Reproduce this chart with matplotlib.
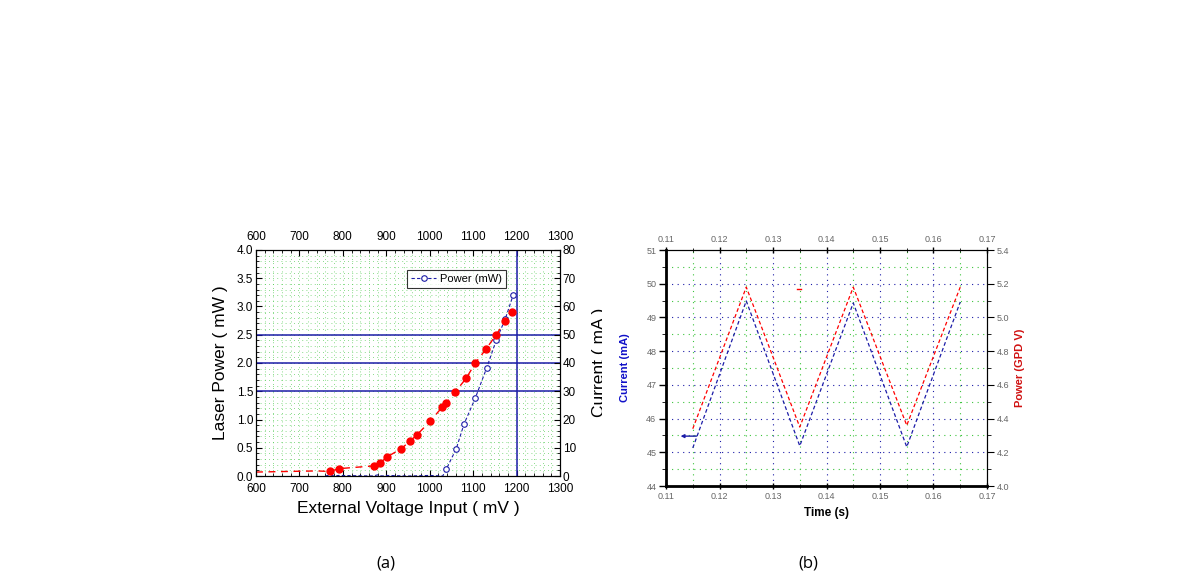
import matplotlib
matplotlib.use("Agg")
import matplotlib.pyplot as plt
from matplotlib.ticker import MultipleLocator
from matplotlib.transforms import Bbox

# ---- panel (a): laser power / current vs external voltage ----
red_mv = [600, 740, 770, 791, 872, 886, 902, 934, 955, 971, 1001, 1029, 1038,
          1059, 1084, 1105, 1130, 1153, 1174, 1190]
red_ma = [1.4, 1.8, 1.6, 2.6, 3.6, 4.6, 6.8, 9.6, 12.4, 14.6, 19.4, 24.4, 25.8,
          29.8, 34.6, 40.0, 45.0, 50.0, 54.8, 58.0]
blue_mv = [760, 770, 780, 790, 870, 880, 890, 900, 950, 1000, 1030, 1038, 1061,
           1079, 1105, 1131, 1153, 1174, 1192]
blue_mw = [0.0, 0.02, 0.0, 0.01, 0.0, 0.02, 0.0, 0.01, 0.0, 0.01, 0.0, 0.12, 0.48,
           0.92, 1.38, 1.91, 2.4, 2.78, 3.2]
hlines_mw = [1.5, 2.0, 2.5]
vline_mv = 1200

# ---- panel (b): current / photodiode power vs time ----
t_s = [0.115, 0.125, 0.135, 0.145, 0.155, 0.165]
cur_ma = [45.13, 49.49, 45.19, 49.43, 45.16, 49.46]
pd_v = [4.34, 5.18, 4.35, 5.18, 4.36, 5.18]

NAVY = "#1c1ca8"
GREEN = "#3cc43c"

plt.rcParams["font.family"] = ["Liberation Sans", "DejaVu Sans"]
fig = plt.figure(figsize=(11.9, 5.86), dpi=100)

# ================= (a) =================
ax = fig.add_axes([0.2151, 0.1877, 0.2555, 0.3857])
ax.set_xlim(600, 1300)
ax.set_ylim(0, 4.0)
ax.xaxis.set_major_locator(MultipleLocator(100))
ax.xaxis.set_minor_locator(MultipleLocator(20))
ax.yaxis.set_major_locator(MultipleLocator(0.5))
ax.yaxis.set_minor_locator(MultipleLocator(0.1))
ax.grid(which="both", color=GREEN, ls=(0, (1, 4)), lw=0.6, alpha=0.8)
ax.set_axisbelow(True)
ax.tick_params(which="both", direction="in", top=True, labeltop=True,
               labelsize=8.5, pad=2)
ax.tick_params(axis="x", which="both", pad=5)
ax.tick_params(which="major", length=4)
ax.tick_params(which="minor", length=2)

for y in hlines_mw:
    ax.axhline(y, color=NAVY, lw=1.1)
ax.axvline(vline_mv, color=NAVY, lw=1.1)

ax.plot(blue_mv, blue_mw, ls=(0, (3, 2)), color=NAVY, lw=0.8, marker="o",
        ms=4, mfc="white", mec=NAVY, mew=0.8,
        markevery=list(range(11, len(blue_mv))), label="Power (mW)")
ax.set_xlabel("External Voltage Input ( mV )", fontsize=12.5, labelpad=4)
ax.set_ylabel("Laser Power ( mW )", fontsize=12.5, labelpad=6)
leg = ax.legend(loc="upper left", bbox_to_anchor=(0.48, 0.935), fontsize=8,
                frameon=True, fancybox=False, edgecolor="black",
                handlelength=2.2, borderpad=0.35, handletextpad=0.4)
leg.get_frame().set_linewidth(0.8)

axr = ax.twinx()
axr.set_ylim(0, 80)
axr.yaxis.set_major_locator(MultipleLocator(10))
axr.yaxis.set_minor_locator(MultipleLocator(2))
axr.tick_params(which="both", direction="in", labelsize=8.5, pad=2)
axr.tick_params(which="major", length=4)
axr.tick_params(which="minor", length=2)
axr.plot(red_mv, red_ma, ls=(0, (5, 4)), color="red", lw=1.0, marker="o",
         ms=5, mfc="red", mec="red", markevery=list(range(2, len(red_mv))))
rl = fig.text(0.5035, 0.381, "Current ( mA )", rotation=90, fontsize=12.5,
              ha="center", va="center")
rl.set_clip_box(Bbox.from_extents(0, 0, 0.506 * fig.bbox.width, fig.bbox.height))
rl.set_clip_on(True)

# ================= (b) =================
bx = fig.add_axes([0.5597, 0.1706, 0.2697, 0.4027])
bx.set_xlim(0.11, 0.17)
bx.set_ylim(44, 51)
bx.xaxis.set_major_locator(MultipleLocator(0.01))
bx.xaxis.set_minor_locator(MultipleLocator(0.005))
bx.yaxis.set_major_locator(MultipleLocator(1))
bx.yaxis.set_minor_locator(MultipleLocator(0.5))
bx.xaxis.set_major_formatter(plt.FuncFormatter(lambda v, p: f"{v:.2f}"))
for v in [0.12, 0.13, 0.14, 0.15, 0.16]:
    bx.axvline(v, color=NAVY, ls=(0, (1, 4)), lw=0.8, zorder=0)
for v in [0.115, 0.125, 0.135, 0.145, 0.155, 0.165]:
    bx.axvline(v, color=GREEN, ls=(0, (1, 4)), lw=0.8, zorder=0)
for y in range(45, 51):
    bx.axhline(y, color=NAVY, ls=(0, (1, 4)), lw=0.8, zorder=0)
    bx.axhline(y - 0.5, color=GREEN, ls=(0, (1, 4)), lw=0.8, zorder=0)
bx.axhline(50.5, color=GREEN, ls=(0, (1, 4)), lw=0.8, zorder=0)
bx.spines["left"].set_linewidth(2)
bx.spines["bottom"].set_linewidth(2)
bx.tick_params(which="both", direction="out", top=True, labeltop=True,
               labelsize=6.5, labelcolor="#666666", pad=2)
bx.tick_params(axis="x", which="both", top=True, direction="inout")
bx.tick_params(which="major", length=5, width=1)
bx.tick_params(which="minor", length=3)
bx.plot(t_s, cur_ma, ls=(0, (3, 2)), color=NAVY, lw=0.9)
bx.annotate("", xy=(0.1122, 45.48), xytext=(0.1162, 45.48),
            arrowprops=dict(arrowstyle="-|>", color=NAVY, lw=1, mutation_scale=5))
bx.set_ylabel("Current (mA)", fontsize=8, fontweight="bold", color="#1010c8",
              labelpad=12)
bx.set_xlabel("Time (s)", fontsize=8.5, fontweight="bold", labelpad=4)

bxr = bx.twinx()
bxr.set_ylim(4.0, 5.4)
bxr.yaxis.set_major_locator(MultipleLocator(0.2))
bxr.yaxis.set_minor_locator(MultipleLocator(0.1))
bxr.yaxis.set_major_formatter(plt.FuncFormatter(lambda v, p: f"{v:.1f}"))
bxr.tick_params(which="both", direction="out", labelsize=6.5,
                labelcolor="#666666", pad=2)
bxr.tick_params(which="major", length=5)
bxr.tick_params(which="minor", length=3)
bxr.plot(t_s, pd_v, ls=(0, (3, 2)), color="red", lw=0.9)
bxr.plot([0.1345, 0.1352], [5.17, 5.17], color="red", lw=1)
bxr.set_ylabel("Power (GPD V)", fontsize=8, fontweight="bold", color="#d01010",
               rotation=90, labelpad=4)

# captions
fig.text(386 / 1190, 1 - 563 / 586, "(a)", fontsize=12, family="Open Sans",
         ha="center", va="center")
fig.text(808 / 1190, 1 - 563 / 586, "(b)", fontsize=12, family="Open Sans",
         ha="center", va="center")

fig.savefig("out.png", dpi=100, facecolor="white")
